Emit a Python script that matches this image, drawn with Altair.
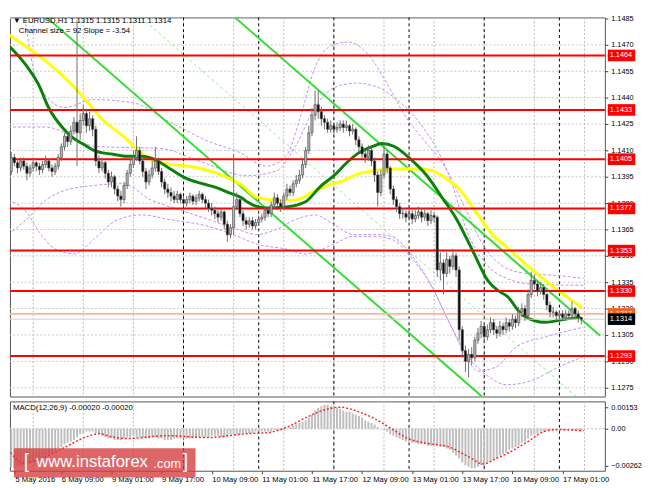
import altair as alt
import pandas as pd

BASE = 1.1300
PIP = 0.0001

# ---------------- candles (pips above 1.1300), one per H1 bar ----------------
CLOSE = [98,106,103,100,104,101,97,100,103,101,99,102,104,100,98,101,
         106,112,118,115,121,126,120,127,131,124,128,122,104,
         100,103,97,92,95,88,84,82,90,97,
         102,106,110,104,98,92,96,100,104,98,92,88,
         86,84,82,85,82,80,82,84,81,83,85,82,
         80,77,76,74,72,75,68,62,66,78,
         82,74,70,68,70,67,69,71,72,76, 74,79,83,80,78,84,88,86,91,93,
         96,102,110,120,130,136,132,128,126,122, 124,122,123,125,123,124,121,122,116,
         112,108,106,110,104, 96,86,96,108,100, 88,82,78,74,
         74,72,74,71,73,75,72,74,70,73,72, 42,46,40,48,44,50,42, 8, -4,-10,-6,-8,
         2,6,10,4,8, 12,8,6,10,8, 12,10,14,12,18, 20,16,28,36,34,
         30,32,28,22,18, 18,16,17,15,17, 16,20,17,15,14]
HIGH = [111,109,108,105,106,106,103,102,106,104,103,104,107,105,102,103,
        108,114,120,121,124,129,184,131,136,133,132,130,124,
        107,106,104,99,98,96,90,87,92,99,
        105,110,118,112,106,100,99,104,112,106,100,94,
        91,89,87,87,86,84,84,86,85,85,87,86,
        84,82,80,78,76,77,76,70,68,108,
        86,83,76,72,72,72,71,73,74,78, 78,81,86,85,82,86,91,90,93,96,
        99,105,112,124,134,144,144,135,130,128, 127,126,126,127,127,127,125,125,123,
        118,114,110,113,112, 106,98,99,114,110, 101,90,84,80,
        77,76,77,76,76,78,77,77,75,76,75, 73,52,48,52,50,54,52, 44, 10,-1,-3,-2,
        4,9,13,12,11, 15,14,10,13,12, 15,14,17,16,21, 23,22,31,41,39,
        36,35,34,29,24, 21,19,19,19,19, 19,24,21,19,15]
LOW = [96,96,101,97,98,99,93,95,98,98,96,97,100,98,95,96,
       99,104,110,112,113,119,101,116,124,120,121,118,101,
       97,98,94,89,89,85,81,78,80,88,
       95,100,104,102,95,88,90,94,98,96,89,85,
       83,81,80,80,80,78,78,80,79,79,81,80,
       77,75,73,71,69,70,65,58,60,62,
       76,72,67,65,66,65,65,67,69,70, 72,72,77,78,75,76,82,84,84,89,
       91,94,100,108,118,127,128,124,122,120, 120,119,120,121,120,121,118,119,113,
       109,105,103,104,101, 92,78,84,94,97, 85,79,75,71,
       71,69,70,68,69,71,69,70,67,68,69, 38,36,28,38,40,42,38, 2, -8,-16,-19,-12,
       -10,0,3,1,2, 6,5,3,4,5, 6,7,8,9,10, 15,13,14,26,31,
       27,28,25,19,15, 15,13,14,13,13, 14,14,14,12,11]
OPEN = [108] + CLOSE[:-1]

# ---------------- indicators (bar index, pips above 1.1300) ----------------
YEL_I = [0,9.8,17.2,23.3,29.4,38,42.6,48.8,57,62,67.2,74.8,79.4,85.6,91.7,97,101.8,107,
         111.7,116.3,123.3,131.6,135.6,139.9,143.9,148.5,154.6,159.2,166.9,176.7,183.1]
YEL_P = [176,163.9,152.8,141.7,128.9,116.1,108.3,102.8,101.1,99.4,96.7,90,83.3,81.7,81.7,86.1,90,92.8,
         96.7,98.3,99.4,99.4,98.3,93.9,88.3,77.2,62.2,55,42.8,28.9,20.6]
GRN_I = [0,5.8,9.8,12.9,17.2,20.2,24.2,28.2,33.4,38,42.6,46.6,51.8,57,62,66.3,70.2,74.8,76.4,
         82.5,88.7,94.8,100,104,108,111.7,116.3,119.3,123.3,128.5,133.7,138.7,142.9,148.5,
         153.1,156.1,159.2,164.4,171.5,177.6,182.8]
GRN_P = [170,158.3,147.2,134.4,123.3,117.8,113.3,109.4,107.8,106.7,106.7,105,99.4,93.9,91.1,88.9,86.1,82.8,80.6,
         77.2,77.8,80.6,90,95.6,102.8,108.3,112.2,113.9,112.2,105,95.6,82.8,71.7,52.2,
         36.1,30.6,27.2,16.1,12.2,13.9,15]
# envelope bands (dashed violet)
BUP_I = [5,8,12,18.1,27.3,39.6,51.8,64.1,73.3,82.5,88.7,93.3,97.9,102.5,108.6,114.7,120.9,
         127,133.1,139.3,145.4,151.5,157.7,165.3,174.5,183.7]
BUP_P = [190,156.7,141.1,134.4,138.9,137.2,126.1,115,109.4,101.1,106.7,128.9,156.7,168.9,171.7,165,148.3,
         128.9,115,101.1,78.9,56.7,44.4,40,38.9,37.2]
BUP2_I = [0,12,28.2,48.8,61,76.4,85.6,91.7,97.9,104,111,118.4,123.3,130.7,140.8,146.9,153.1,
          159.2,167.5,183.7]
BUP2_P = [123.3,123.3,112.2,111.1,103.9,95.6,98.3,112.2,134.4,145.6,148.3,145.6,140,127.2,95.6,62.2,
          44.4,37.2,33.9,33.3]
BLO_I = [0,5.8,12,18.1,27.3,36.5,45.7,54.9,64.1,73.3,79.4,85.6,91.7,97.9,104,110.1,116.3,
         122.4,128.5,134.7,140.8,145.4,150,156.1,162.3,171.5,183.7]
BLO_P = [62.2,70.6,81.7,87.2,90,91.1,81.7,76.1,70.6,65,62.2,65,70.6,73.3,67.8,62.2,62.2,
         61.1,51.1,34.4,12.2,-4.4,-15.6,-12.8,-1.7,3.9,9.4]
BLO2_I = [0,5.8,9.8,15,21.2,27.3,35,42.6,51.8,64.1,73.3,79.4,88.7,94.8,104,110.1,116.3,122.4,
          128.5,134.7,140.8,146.9,153.1,159.2,166.9,174.5,183.7]
BLO2_P = [81.7,75,63.9,53.9,51.1,59.4,70.6,73.3,70.6,66.7,61.1,56.7,53.9,51.1,56.7,61.1,61.1,59.4,
          49.4,34.4,12.2,-7.2,-18.3,-23.3,-21.1,-14.4,-7.2]
# regression channel (start / end bar, start / end pips)
CH_NAMES = ["upper", "lower", "middle"]
CH_I0 = [69.6, 9.5, 39.6]
CH_I1 = [189.0, 151.2, 181.3]
CH_P0 = [190, 190, 190]
CH_P1 = [4.6, -29.9, -29.9]

LEVELS = [1.1464, 1.1433, 1.1405, 1.1377, 1.1353, 1.1330, 1.1293]
ASK = 1.1317
BID = 1.1314
Y_TICKS = [1.1485, 1.1470, 1.1455, 1.1440, 1.1425, 1.1410, 1.1395, 1.1380,
           1.1365, 1.1350, 1.1335, 1.1320, 1.1305, 1.1290, 1.1275]

X_TICKS = [2.2, 17, 33, 49, 65, 81, 97, 113, 129, 145, 161, 177]
X_LABELS = ["5 May 2016", "6 May 09:00", "9 May 01:00", "9 May 17:00", "10 May 09:00",
            "11 May 01:00", "11 May 17:00", "12 May 09:00", "13 May 01:00",
            "13 May 17:00", "16 May 09:00", "17 May 01:00"]
GRID_I = [8, 24, 40, 56, 72, 88, 104, 120, 136, 152, 168, 184]
SEP_I = [56, 80, 104, 128, 152, 176]

# MACD histogram, units of 0.0001
MACD = [-27,-27,-28,-27,-27,-26,-26,-25,-24,
        -23,-22,-21,-20,-18,-17,-16,
        -14,-13,-11,-10,-9,-8,
        -6,-4,-3,-2,-2,-2,-3,
        -4,-5,-6,-7,-7,-8,-8,
        -8,-7,-6,-6,-5,-6,-6,-7,-7,-7,-6,-6,-7,-7,-8,-8,-8,-7,-7,-7,-7,-7,-7,-7,-6,-6,-6,-6,-6,
        -5,-5,-5,-6,-6,-5,-4,-4,-4,-4,-3,-3,-3,-3,-2,-2,-2,
        -2,-2,-2,-1,-1,-1,-1,
        0,1,2,3,
        4,5,6,8,10,
        13,15,16,17,17,16,
        16,15,14,13,12,12,11,
        10,9,8,6,5,4,
        3,1,0,-1,
        -2,-4,-5,-6,-7,-8,-9,-9,
        -10,-10,-11,-11,-11,-12,-12,-12,-12,-13,-13,
        -14,-15,-17,-19,-21,
        -24,-26,-27,-28,-28,-27,
        -26,-25,-24,-23,-22,-21,-19,-18,-17,-15,-14,-13,
        -12,-10,-9,-7,-5,-4,
        -3,-2,-2,-1,-1,
        -1,-1,0,-1,-1,0,-1,-1,-1,-2]
SIG_I = [0,5,12.6,18.7,25.2,29.1,32.8,38,50.9,63.5,76.4,82.8,89.3,95.4,101.8,105.8,112.3,
         117.2,122.4,127.6,133.7,140.2,146.6,151.8,155.5,160.7,166,170.9,174.8,183.7]
SIG_V = [-14.6,-24.3,-19.4,-12.5,-5.6,-3.5,-5.6,-6.9,-4.9,-6.3,-3.5,-2.8,1.4,8.3,13.9,15.3,11.8,
         6.9,0,-6.9,-10.4,-12.5,-19.4,-25,-21.5,-16,-9,-2.1,-0.7,-1.4]

HEADER1 = "\u25bc EURUSD,H1  1.1315 1.1315 1.1311 1.1314"
HEADER2 = "Channel size = 92 Slope = -3.54"
MACD_TITLE = "MACD(12,26,9) -0.00020 -0.00020"
WM_PARTS = ["[", "www.instaforex", ".com", "]"]

# ---------------- tables ----------------
n = min(len(CLOSE), len(HIGH), len(LOW), len(OPEN))
candles = pd.DataFrame({
    "i": list(range(n)),
    "o": [BASE + v * PIP for v in OPEN[:n]],
    "h": [BASE + v * PIP for v in HIGH[:n]],
    "l": [BASE + v * PIP for v in LOW[:n]],
    "c": [BASE + v * PIP for v in CLOSE[:n]],
})
candles["bull"] = candles["c"] >= candles["o"]

def line_df(xs, ps, name):
    k = min(len(xs), len(ps))
    return pd.DataFrame({"i": xs[:k], "p": [BASE + v * PIP for v in ps[:k]], "s": name})

yel = line_df(YEL_I, YEL_P, "yellow")
grn = line_df(GRN_I, GRN_P, "green")
bands = pd.concat([line_df(BUP_I, BUP_P, "up"), line_df(BLO_I, BLO_P, "lo"),
                   line_df(BUP2_I, BUP2_P, "up2"), line_df(BLO2_I, BLO2_P, "lo2")])
ch_rows = []
for nm, a, b, p0, p1 in zip(CH_NAMES, CH_I0, CH_I1, CH_P0, CH_P1):
    ch_rows.append({"i": a, "p": BASE + p0 * PIP, "s": nm})
    ch_rows.append({"i": b, "p": BASE + p1 * PIP, "s": nm})
ch = pd.DataFrame(ch_rows)

m = min(len(MACD), n)
macd = pd.DataFrame({"i": list(range(m)), "v": [v * 1e-4 for v in MACD[:m]], "z": 0.0})
sig = pd.DataFrame({"i": SIG_I, "v": [v * 1e-4 for v in SIG_V]})

W = 609
XMIN, XMAX = (8 - 1) / 3.26, (8 + W - 1) / 3.26
xsc = alt.Scale(domain=[XMIN, XMAX], nice=False, zero=False)
ysc = alt.Scale(domain=[BASE - 30 * PIP, BASE + 185.6 * PIP], nice=False, zero=False)
msc = alt.Scale(domain=[-0.002986, 0.001944], nice=False, zero=False)
FONT = "Liberation Sans"

AX_COMMON = dict(title=None, grid=False, domain=False, labelFont=FONT,
                 labelColor="black", tickColor="#404040")
main_y_axis = alt.Axis(orient="right", values=Y_TICKS, format=".4f", tickSize=3,
                       labelPadding=3, labelFontSize=7.5, **AX_COMMON)
lab_expr = " : ".join(
    [f"(abs(datum.value - {v}) < 0.5) ? '{t}'" for v, t in zip(X_TICKS, X_LABELS)]) + " : ''"
mx_axis = alt.Axis(values=X_TICKS, labelExpr=lab_expr, labelAlign="left", tickSize=3,
                   labelPadding=2, labelOverlap=False, labelBound=False, labelFlush=False,
                   labelFontSize=7.8, **AX_COMMON)
my_axis = alt.Axis(orient="right", values=[0.00153, 0, -0.00262],
                   labelExpr="datum.value == 0 ? '0.00' : format(datum.value, '.5f')",
                   tickSize=3, labelPadding=3, labelFontSize=7.5, **AX_COMMON)

def X():
    return alt.X("i:Q", scale=xsc, axis=None)

def Y(f):
    return alt.Y(f"{f}:Q", scale=ysc, axis=main_y_axis)

def MX():
    return alt.X("i:Q", scale=xsc, axis=mx_axis)

def MY(f):
    return alt.Y(f"{f}:Q", scale=msc, axis=my_axis)

def label(txt, x, y, size=8, color="black", font=FONT):
    return alt.Chart(pd.DataFrame({"t": [txt]})).mark_text(
        align="left", baseline="top", font=font, fontSize=size, color=color
    ).encode(x=alt.value(x), y=alt.value(y), text="t:N")

# ---------------- main panel ----------------
hgrid = alt.Chart(pd.DataFrame({"p": Y_TICKS})).mark_rule(
    color="#C8C8C8", strokeDash=[2, 2], strokeWidth=1).encode(y=Y("p"))
vgrid = alt.Chart(pd.DataFrame({"i": GRID_I})).mark_rule(
    color="#B8B8B8", strokeDash=[2, 2], strokeWidth=1).encode(x=X())
seps = alt.Chart(pd.DataFrame({"i": SEP_I})).mark_rule(
    color="#000000", strokeDash=[3, 3], strokeWidth=1).encode(x=X())

band_l = alt.Chart(bands).mark_line(
    color="#C58AF0", strokeDash=[3, 2], strokeWidth=1, interpolate="monotone", clip=True
).encode(x=X(), y=Y("p"), detail="s:N")

ch_solid = alt.Chart(ch[ch.s != "middle"]).mark_line(
    color="#33DD33", strokeWidth=2, clip=True).encode(x=X(), y=Y("p"), detail="s:N")
ch_mid = alt.Chart(ch[ch.s == "middle"]).mark_line(
    color="#8FE88F", strokeWidth=1, strokeDash=[3, 3], clip=True).encode(x=X(), y=Y("p"))

yel_l = alt.Chart(yel).mark_line(color="#FFFF00", strokeWidth=3, interpolate="monotone",
                                 clip=True).encode(x=X(), y=Y("p"))
grn_l = alt.Chart(grn).mark_line(color="#0A820A", strokeWidth=3, interpolate="monotone",
                                 clip=True).encode(x=X(), y=Y("p"))

lev = alt.Chart(pd.DataFrame({"p": LEVELS})).mark_rule(
    color="#FF0000", strokeWidth=2).encode(y=Y("p"))
ask_l = alt.Chart(pd.DataFrame({"p": [ASK]})).mark_rule(
    color="#FFB49A", strokeWidth=2).encode(y=Y("p"))
bid_l = alt.Chart(pd.DataFrame({"p": [BID]})).mark_rule(
    color="#D0D0D0", strokeWidth=1).encode(y=Y("p"))

wick = alt.Chart(candles).mark_rule(color="#6E6E6E", strokeWidth=1, clip=True).encode(
    x=X(), y=Y("l"), y2="h:Q")
body = alt.Chart(candles).mark_bar(size=2.2, stroke="#505050", strokeWidth=0.7, clip=True).encode(
    x=X(), y=Y("o"), y2="c:Q",
    color=alt.condition("datum.bull", alt.value("#B8B8B8"), alt.value("#000000")))

def tag(values, fill, txt):
    d = pd.DataFrame({"p": values, "top": [v + 0.00033 for v in values],
                      "bot": [v - 0.00033 for v in values],
                      "lab": [f"{v:.4f}" for v in values]})
    r = alt.Chart(d).mark_rect(color=fill).encode(
        x=alt.value(W + 3), x2=alt.value(W + 31), y=Y("top"), y2="bot:Q")
    t = alt.Chart(d).mark_text(align="left", baseline="middle", font=FONT, fontSize=7.5,
                               color=txt).encode(x=alt.value(W + 5), y=Y("p"), text="lab:N")
    return r + t

main = alt.layer(
    hgrid, vgrid, seps, band_l, ch_mid, ch_solid, yel_l, grn_l, lev, ask_l, bid_l,
    wick, body, label(HEADER1, 3, 0), label(HEADER2, 9, 10),
    tag(LEVELS, "#FF0000", "white"), tag([ASK], "#F4641E", "white"), tag([BID], "#000000", "white"),
).properties(width=W, height=388)

# ---------------- MACD panel ----------------
mgrid = alt.Chart(pd.DataFrame({"i": GRID_I})).mark_rule(
    color="#B8B8B8", strokeDash=[2, 2]).encode(x=MX())
mseps = alt.Chart(pd.DataFrame({"i": SEP_I})).mark_rule(
    color="#000000", strokeDash=[3, 3]).encode(x=MX())
zero = alt.Chart(pd.DataFrame({"v": [0.0]})).mark_rule(
    color="#B8B8B8", strokeDash=[2, 2]).encode(y=MY("v"))
hist = alt.Chart(macd).mark_bar(size=2, color="#BEBEBE", clip=True).encode(
    x=MX(), y=MY("v"), y2="z:Q")
sig_l = alt.Chart(sig).mark_line(color="#FF2020", strokeDash=[2, 2], strokeWidth=1.5,
                                 interpolate="monotone", clip=True).encode(x=MX(), y=MY("v"))

wm_box = alt.Chart(pd.DataFrame({"a": [0]})).mark_rect(color="#D63B3B", opacity=0.78).encode(
    x=alt.value(4), x2=alt.value(190), y=alt.value(48), y2=alt.value(78))
wm = [
    label(WM_PARTS[0], 14, 52, 20, "white"),
    label(WM_PARTS[1], 27, 54, 17, "white"),
    label(WM_PARTS[2], 147, 58, 13, "white"),
    label(WM_PARTS[3], 177, 52, 20, "white"),
]

macd_panel = alt.layer(mgrid, mseps, zero, hist, sig_l, label(MACD_TITLE, 3, 3),
                       wm_box, *wm).properties(width=W, height=71)

chart = alt.vconcat(main, macd_panel, spacing=3).properties(
    padding=0, background="white"
).configure_view(stroke="#555555", strokeWidth=1)

chart.save("out.html", embed_options={"renderer": "svg", "actions": False})
